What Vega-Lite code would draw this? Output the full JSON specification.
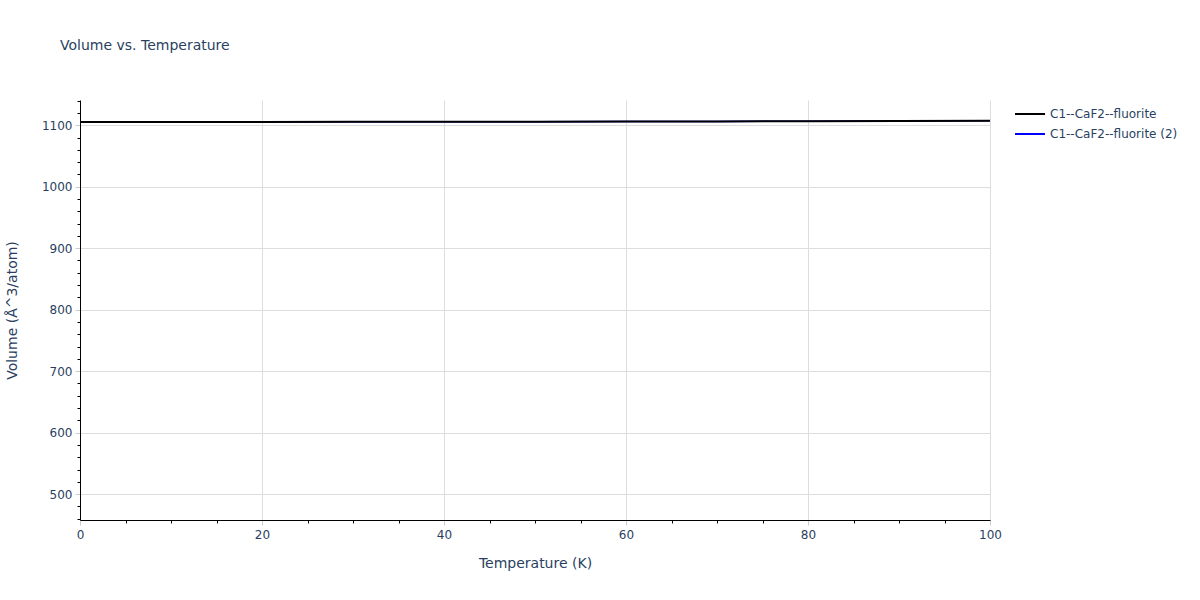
{
  "$schema": "https://vega.github.io/schema/vega-lite/v6.json",
  "width": 910,
  "height": 420,
  "autosize": {"type": "none"},
  "padding": {"left": 80, "top": 100, "right": 210, "bottom": 80},
  "background": "white",
  "config": {
    "font": "DejaVu Sans",
    "view": {"stroke": null}
  },
  "title": {
    "text": "Volume vs. Temperature",
    "anchor": "start",
    "frame": "group",
    "dx": -20,
    "offset": 42,
    "fontSize": 14,
    "fontWeight": "normal",
    "color": "#2a3f5f",
    "font": "DejaVu Sans"
  },
  "datasets": {
    "s1": [
      {"T": 0, "V": 1105.3, "series": "C1--CaF2--fluorite"},
      {"T": 10, "V": 1105.35, "series": "C1--CaF2--fluorite"},
      {"T": 20, "V": 1105.4, "series": "C1--CaF2--fluorite"},
      {"T": 30, "V": 1105.5, "series": "C1--CaF2--fluorite"},
      {"T": 40, "V": 1105.6, "series": "C1--CaF2--fluorite"},
      {"T": 50, "V": 1105.8, "series": "C1--CaF2--fluorite"},
      {"T": 60, "V": 1106.0, "series": "C1--CaF2--fluorite"},
      {"T": 70, "V": 1106.2, "series": "C1--CaF2--fluorite"},
      {"T": 80, "V": 1106.5, "series": "C1--CaF2--fluorite"},
      {"T": 90, "V": 1106.8, "series": "C1--CaF2--fluorite"},
      {"T": 100, "V": 1107.1, "series": "C1--CaF2--fluorite"}
    ],
    "s2": [
      {"T": 0, "V": 1105.3, "series": "C1--CaF2--fluorite (2)"},
      {"T": 10, "V": 1105.35, "series": "C1--CaF2--fluorite (2)"},
      {"T": 20, "V": 1105.4, "series": "C1--CaF2--fluorite (2)"},
      {"T": 30, "V": 1105.5, "series": "C1--CaF2--fluorite (2)"},
      {"T": 40, "V": 1105.6, "series": "C1--CaF2--fluorite (2)"},
      {"T": 50, "V": 1105.8, "series": "C1--CaF2--fluorite (2)"},
      {"T": 60, "V": 1106.0, "series": "C1--CaF2--fluorite (2)"},
      {"T": 70, "V": 1106.2, "series": "C1--CaF2--fluorite (2)"},
      {"T": 80, "V": 1106.5, "series": "C1--CaF2--fluorite (2)"},
      {"T": 90, "V": 1106.8, "series": "C1--CaF2--fluorite (2)"},
      {"T": 100, "V": 1107.1, "series": "C1--CaF2--fluorite (2)"}
    ]
  },
  "encoding": {
    "x": {
      "field": "T",
      "type": "quantitative",
      "scale": {"domain": [0, 100], "nice": false, "zero": false},
      "axis": {
        "title": "Temperature (K)",
        "titleFontSize": 14,
        "titleFontWeight": "normal",
        "titleColor": "#2a3f5f",
        "titlePadding": 16,
        "values": [0,5,10,15,20,25,30,35,40,45,50,55,60,65,70,75,80,85,90,95,100],
        "labelExpr": "datum.value % 20 === 0 ? datum.label : ''",
        "labelFontSize": 12,
        "labelColor": "#2a3f5f",
        "labelPadding": 4,
        "labelFlush": false,
        "labelOverlap": false,
        "domainColor": "black",
        "domainWidth": 1,
        "tickColor": {"condition": {"test": "datum.value % 20 === 0", "value": "#cccccc"}, "value": "black"},
        "tickSize": {"condition": {"test": "datum.value % 20 === 0", "value": 5}, "value": 3},
        "tickWidth": 1,
        "grid": true,
        "gridColor": "#dddddd",
        "gridOpacity": {"condition": {"test": "datum.value % 20 === 0 && datum.value > 0", "value": 1}, "value": 0}
      }
    },
    "y": {
      "field": "V",
      "type": "quantitative",
      "scale": {"domain": [458, 1141], "nice": false, "zero": false},
      "axis": {
        "title": "Volume (Å^3/atom)",
        "titleFontSize": 14,
        "titleFontWeight": "normal",
        "titleColor": "#2a3f5f",
        "titlePadding": 22,
        "values": [460,480,500,520,540,560,580,600,620,640,660,680,700,720,740,760,780,800,820,840,860,880,900,920,940,960,980,1000,1020,1040,1060,1080,1100,1120,1140],
        "labelExpr": "datum.value % 100 === 0 ? datum.label : ''",
        "format": "d",
        "labelFontSize": 12,
        "labelColor": "#2a3f5f",
        "labelPadding": 3,
        "labelFlush": false,
        "labelOverlap": false,
        "domainColor": "black",
        "domainWidth": 1,
        "tickColor": {"condition": {"test": "datum.value % 100 === 0", "value": "#cccccc"}, "value": "black"},
        "tickSize": {"condition": {"test": "datum.value % 100 === 0", "value": 5}, "value": 3},
        "tickWidth": 1,
        "grid": true,
        "gridColor": "#dddddd",
        "gridOpacity": {"condition": {"test": "datum.value % 100 === 0", "value": 1}, "value": 0}
      }
    },
    "color": {
      "field": "series",
      "type": "nominal",
      "scale": {
        "domain": ["C1--CaF2--fluorite", "C1--CaF2--fluorite (2)"],
        "range": ["black", "blue"]
      },
      "legend": {
        "title": null,
        "orient": "none",
        "legendX": 934,
        "legendY": 7,
        "symbolType": "stroke",
        "symbolSize": 900,
        "symbolStrokeWidth": 2,
        "labelFontSize": 12,
        "labelColor": "#2a3f5f",
        "labelOffset": 4,
        "clipHeight": 14,
        "rowPadding": 6
      }
    }
  },
  "layer": [
    {
      "data": {"name": "s2"},
      "mark": {"type": "line", "strokeWidth": 1.5}
    },
    {
      "data": {"name": "s1"},
      "mark": {"type": "line", "strokeWidth": 2}
    }
  ]
}
